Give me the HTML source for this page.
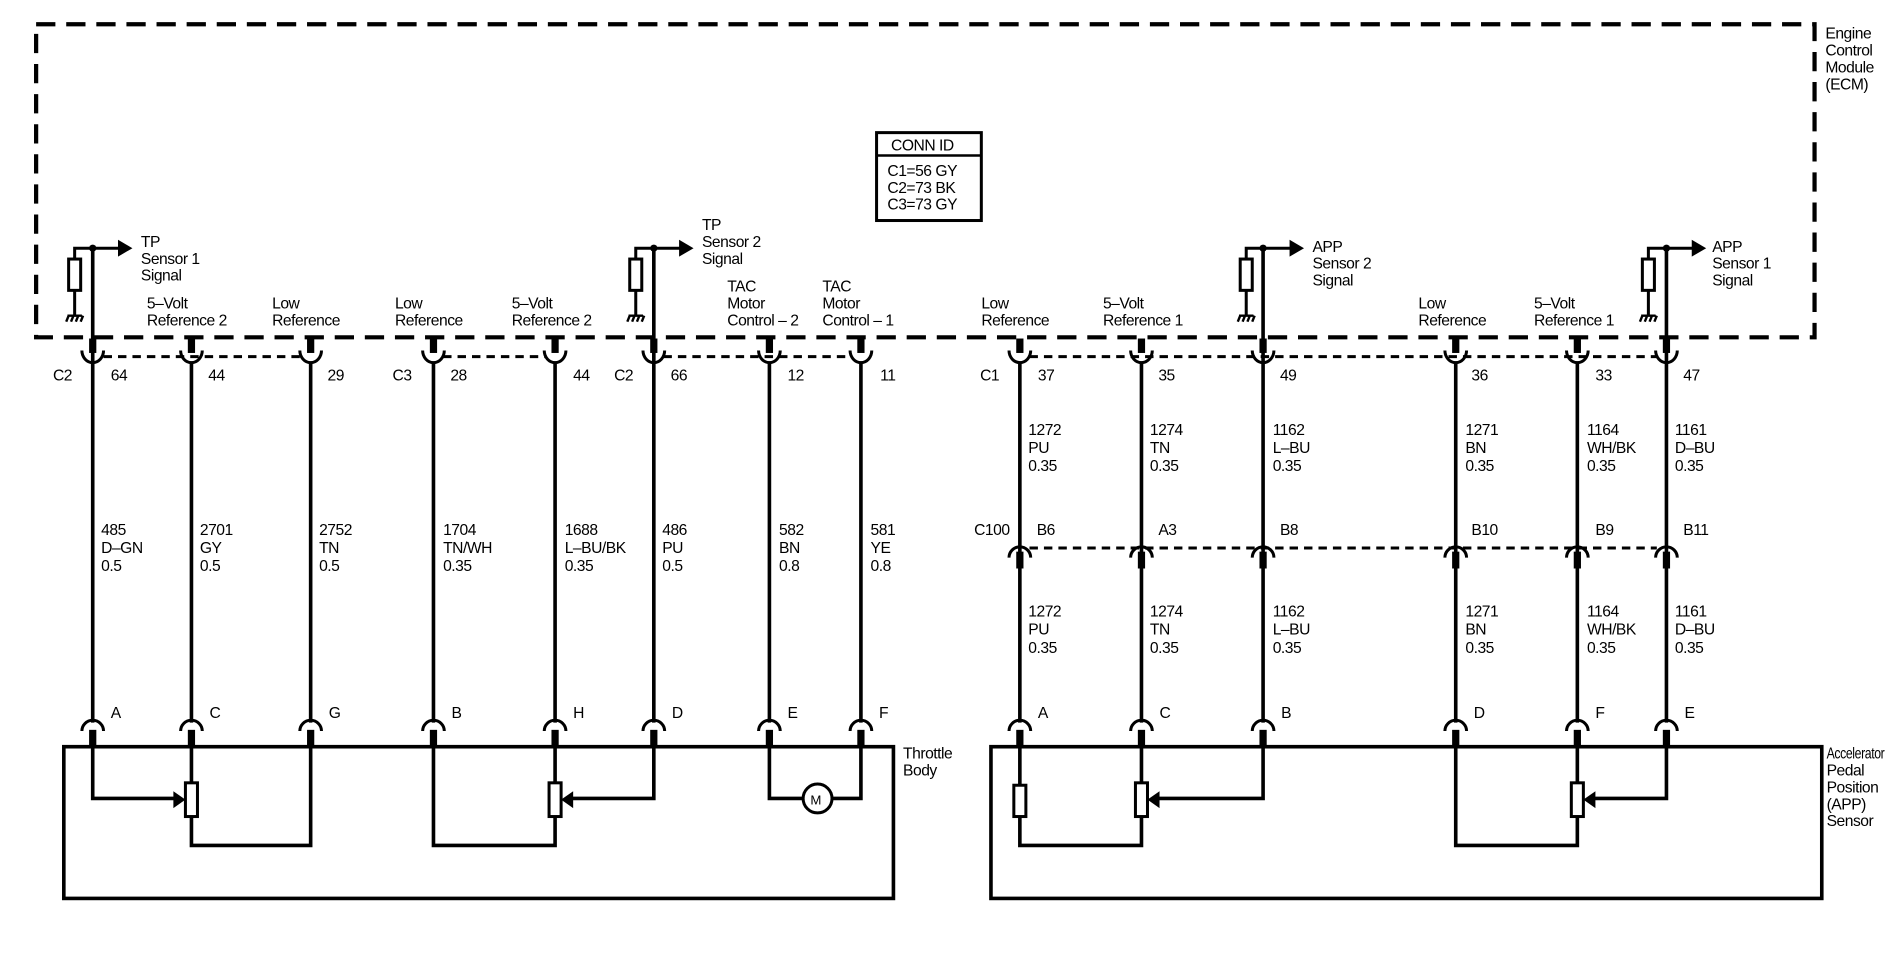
<!DOCTYPE html>
<html><head><meta charset="utf-8"><style>
html,body{margin:0;padding:0;background:#fff}
svg{display:block}
text{font-family:"Liberation Sans",sans-serif;font-size:13px;fill:#000;letter-spacing:-0.4px}
</style></head><body>
<svg width="1888" height="960" viewBox="0 0 1568 797" xmlns="http://www.w3.org/2000/svg">
<defs>
<g id="tc"><rect x="-3" y="281" width="6" height="12" fill="#000"/><path d="M-9,291 A9,10 0 0 0 9,291" fill="none" stroke="#000" stroke-width="2.5"/></g>
<g id="bc"><path d="M-9,607 A9,9 0 0 1 9,607" fill="none" stroke="#000" stroke-width="2.5"/><rect x="-3" y="606" width="6" height="14" fill="#000"/></g>
<g id="mc"><path d="M-9,463 A9,9 0 0 1 9,463" fill="none" stroke="#000" stroke-width="2.5"/><rect x="-3" y="458" width="6" height="14" fill="#000"/></g>
<g id="gnd"><path d="M-6,262 h12 M-5,262 l-2,5 M-1,262 l-2,5 M3,262 l-2,5 M7,262 l-2,5" stroke="#000" stroke-width="2" fill="none"/></g>
</defs>
<g stroke="#000" fill="none">
<rect x="30" y="20" width="1477" height="260" stroke-width="3.5" stroke-dasharray="16,9"/>
<g stroke-width="2.5" stroke-dasharray="7,5">
<line x1="86" y1="296" x2="250" y2="296"/>
<line x1="368" y1="296" x2="453" y2="296"/>
<line x1="551" y1="296" x2="707" y2="296"/>
<line x1="855" y1="296" x2="1376" y2="296"/>
<line x1="855" y1="455" x2="1376" y2="455"/>
</g>
<g stroke-width="3">
<line x1="77" y1="205" x2="77" y2="600"/>
<line x1="159" y1="300" x2="159" y2="600"/>
<line x1="258" y1="300" x2="258" y2="600"/>
<line x1="360" y1="300" x2="360" y2="600"/>
<line x1="461" y1="300" x2="461" y2="600"/>
<line x1="543" y1="205" x2="543" y2="600"/>
<line x1="639" y1="300" x2="639" y2="600"/>
<line x1="715" y1="300" x2="715" y2="600"/>
<line x1="847" y1="300" x2="847" y2="600"/>
<line x1="948" y1="300" x2="948" y2="600"/>
<line x1="1049" y1="205" x2="1049" y2="600"/>
<line x1="1209" y1="300" x2="1209" y2="600"/>
<line x1="1310" y1="300" x2="1310" y2="600"/>
<line x1="1384" y1="205" x2="1384" y2="600"/>
</g>
<g stroke-width="2.5">
<path d="M62,262 V241 M62,215 V206 H100"/><rect x="57" y="215" width="10" height="26" fill="#fff"/>
<path d="M528,262 V241 M528,215 V206 H566"/><rect x="523" y="215" width="10" height="26" fill="#fff"/>
<path d="M1035,262 V241 M1035,215 V206 H1073"/><rect x="1030" y="215" width="10" height="26" fill="#fff"/>
<path d="M1369,262 V241 M1369,215 V206 H1407"/><rect x="1364" y="215" width="10" height="26" fill="#fff"/>
</g>
<rect x="53" y="620" width="689" height="126" stroke-width="3"/>
<rect x="823" y="620" width="690" height="126" stroke-width="3"/>
<g stroke-width="3">
<path d="M77,620 V663 H148"/>
<path d="M159,620 V650 M159,678 V702 H258 V620"/>
<path d="M360,620 V702 H461 V678 M461,620 V650"/>
<path d="M543,620 V663 H472"/>
<path d="M639,620 V663 H667 M691,663 H715 V620"/>
<path d="M847,620 V652 M847,678 V702 H948 V678 M948,620 V650"/>
<path d="M1049,620 V663 H959"/>
<path d="M1209,620 V702 H1310 V678 M1310,620 V650"/>
<path d="M1384,620 V663 H1321"/>
</g>
<g stroke-width="2.5" fill="#fff">
<rect x="154" y="650" width="10" height="28"/>
<rect x="456" y="650" width="10" height="28"/>
<rect x="842" y="652" width="10" height="26"/>
<rect x="943" y="650" width="10" height="28"/>
<rect x="1305" y="650" width="10" height="28"/>
<circle cx="679" cy="663" r="12"/>
</g>
<rect x="728" y="110" width="87" height="73" stroke-width="2.5"/>
<line x1="728" y1="129" x2="815" y2="129" stroke-width="2"/>
</g>
<g fill="#000">
<path d="M98,199 L110,206 L98,213Z"/><path d="M564,199 L576,206 L564,213Z"/>
<path d="M1071,199 L1083,206 L1071,213Z"/><path d="M1405,199 L1417,206 L1405,213Z"/>
<path d="M144,657 L154,664 L144,671Z"/><path d="M476,657 L466,664 L476,671Z"/>
<path d="M963,657 L953,664 L963,671Z"/><path d="M1325,657 L1315,664 L1325,671Z"/>
<circle cx="77" cy="206" r="3"/><circle cx="543" cy="206" r="3"/><circle cx="1049" cy="206" r="3"/><circle cx="1384" cy="206" r="3"/>
</g>
<use href="#gnd" x="62"/><use href="#gnd" x="528"/><use href="#gnd" x="1035"/><use href="#gnd" x="1369"/>
<use href="#tc" x="77"/><use href="#tc" x="159"/><use href="#tc" x="258"/><use href="#tc" x="360"/><use href="#tc" x="461"/><use href="#tc" x="543"/><use href="#tc" x="639"/><use href="#tc" x="715"/>
<use href="#tc" x="847"/><use href="#tc" x="948"/><use href="#tc" x="1049"/><use href="#tc" x="1209"/><use href="#tc" x="1310"/><use href="#tc" x="1384"/>
<use href="#bc" x="77"/><use href="#bc" x="159"/><use href="#bc" x="258"/><use href="#bc" x="360"/><use href="#bc" x="461"/><use href="#bc" x="543"/><use href="#bc" x="639"/><use href="#bc" x="715"/>
<use href="#bc" x="847"/><use href="#bc" x="948"/><use href="#bc" x="1049"/><use href="#bc" x="1209"/><use href="#bc" x="1310"/><use href="#bc" x="1384"/>
<use href="#mc" x="847"/><use href="#mc" x="948"/><use href="#mc" x="1049"/><use href="#mc" x="1209"/><use href="#mc" x="1310"/><use href="#mc" x="1384"/>
<text x="1516" y="32">Engine</text><text x="1516" y="46">Control</text><text x="1516" y="60">Module</text><text x="1516" y="74">(ECM)</text>
<text x="740" y="125">CONN ID</text><text x="737" y="146">C1=56 GY</text><text x="737" y="160">C2=73 BK</text><text x="737" y="174">C3=73 GY</text>
<text x="117" y="205">TP</text><text x="117" y="219">Sensor 1</text><text x="117" y="233">Signal</text>
<text x="583" y="191">TP</text><text x="583" y="205">Sensor 2</text><text x="583" y="219">Signal</text>
<text x="1090" y="209">APP</text><text x="1090" y="223">Sensor 2</text><text x="1090" y="237">Signal</text>
<text x="1422" y="209">APP</text><text x="1422" y="223">Sensor 1</text><text x="1422" y="237">Signal</text>
<text x="122" y="256">5–Volt</text><text x="122" y="270">Reference 2</text>
<text x="226" y="256">Low</text><text x="226" y="270">Reference</text>
<text x="328" y="256">Low</text><text x="328" y="270">Reference</text>
<text x="425" y="256">5–Volt</text><text x="425" y="270">Reference 2</text>
<text x="604" y="242">TAC</text><text x="604" y="256">Motor</text><text x="604" y="270">Control – 2</text>
<text x="683" y="242">TAC</text><text x="683" y="256">Motor</text><text x="683" y="270">Control – 1</text>
<text x="815" y="256">Low</text><text x="815" y="270">Reference</text>
<text x="916" y="256">5–Volt</text><text x="916" y="270">Reference 1</text>
<text x="1178" y="256">Low</text><text x="1178" y="270">Reference</text>
<text x="1274" y="256">5–Volt</text><text x="1274" y="270">Reference 1</text>
<text x="44" y="316">C2</text><text x="92" y="316">64</text><text x="173" y="316">44</text><text x="272" y="316">29</text>
<text x="326" y="316">C3</text><text x="374" y="316">28</text><text x="476" y="316">44</text>
<text x="510" y="316">C2</text><text x="557" y="316">66</text><text x="654" y="316">12</text><text x="731" y="316">11</text>
<text x="814" y="316">C1</text><text x="862" y="316">37</text><text x="962" y="316">35</text><text x="1063" y="316">49</text><text x="1222" y="316">36</text><text x="1325" y="316">33</text><text x="1398" y="316">47</text>
<g>
<text x="84" y="444">485</text><text x="84" y="459">D–GN</text><text x="84" y="474">0.5</text>
<text x="166" y="444">2701</text><text x="166" y="459">GY</text><text x="166" y="474">0.5</text>
<text x="265" y="444">2752</text><text x="265" y="459">TN</text><text x="265" y="474">0.5</text>
<text x="368" y="444">1704</text><text x="368" y="459">TN/WH</text><text x="368" y="474">0.35</text>
<text x="469" y="444">1688</text><text x="469" y="459">L–BU/BK</text><text x="469" y="474">0.35</text>
<text x="550" y="444">486</text><text x="550" y="459">PU</text><text x="550" y="474">0.5</text>
<text x="647" y="444">582</text><text x="647" y="459">BN</text><text x="647" y="474">0.8</text>
<text x="723" y="444">581</text><text x="723" y="459">YE</text><text x="723" y="474">0.8</text>
</g>
<g id="rtop">
<text x="854" y="361">1272</text><text x="854" y="376">PU</text><text x="854" y="391">0.35</text>
<text x="955" y="361">1274</text><text x="955" y="376">TN</text><text x="955" y="391">0.35</text>
<text x="1057" y="361">1162</text><text x="1057" y="376">L–BU</text><text x="1057" y="391">0.35</text>
<text x="1217" y="361">1271</text><text x="1217" y="376">BN</text><text x="1217" y="391">0.35</text>
<text x="1318" y="361">1164</text><text x="1318" y="376">WH/BK</text><text x="1318" y="391">0.35</text>
<text x="1391" y="361">1161</text><text x="1391" y="376">D–BU</text><text x="1391" y="391">0.35</text>
</g>
<use href="#rtop" y="151"/>
<text x="809" y="444">C100</text><text x="861" y="444">B6</text><text x="962" y="444">A3</text><text x="1063" y="444">B8</text><text x="1222" y="444">B10</text><text x="1325" y="444">B9</text><text x="1398" y="444">B11</text>
<text x="92" y="596">A</text><text x="174" y="596">C</text><text x="273" y="596">G</text><text x="375" y="596">B</text><text x="476" y="596">H</text><text x="558" y="596">D</text><text x="654" y="596">E</text><text x="730" y="596">F</text>
<text x="862" y="596">A</text><text x="963" y="596">C</text><text x="1064" y="596">B</text><text x="1224" y="596">D</text><text x="1325" y="596">F</text><text x="1399" y="596">E</text>
<text x="673" y="668" style="font-size:11px">M</text>
<text x="750" y="630">Throttle</text><text x="750" y="644">Body</text>
<text x="1517" y="630" textLength="48" lengthAdjust="spacingAndGlyphs">Accelerator</text><text x="1517" y="644">Pedal</text><text x="1517" y="658">Position</text><text x="1517" y="672">(APP)</text><text x="1517" y="686">Sensor</text>
</svg>
</body></html>
